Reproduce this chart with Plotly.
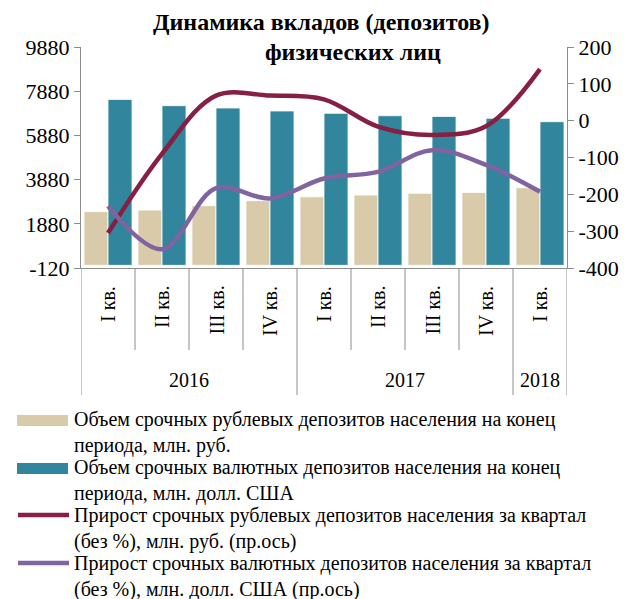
import plotly.graph_objects as go

quarters = ["I кв.", "II кв.", "III кв.", "IV кв.", "I кв.", "II кв.", "III кв.", "IV кв.", "I кв."]
years = ["2016", "2017", "2018"]
year_spans = [(1, 4), (5, 8), (9, 9)]

rub_volume = [2430, 2500, 2700, 2925, 3100, 3180, 3260, 3300, 3510]
usd_volume = [7510, 7225, 7120, 6985, 6880, 6770, 6740, 6655, 6500]
rub_growth = [-305, -90, 68, 68, 58, -16, -39, -15, 140]
usd_growth = [-232, -349, -183, -211, -157, -139, -80, -120, -193]

left_ticks = [-120, 1880, 3880, 5880, 7880, 9880]
left_tick_labels = ["-120", "1880", "3880", "5880", "7880", "9880"]
right_ticks = [-400, -300, -200, -100, 0, 100, 200]
right_tick_labels = ["-400", "-300", "-200", "-100", "0", "100", "200"]

names = [
    "Объем срочных рублевых депозитов населения на конец<br>периода, млн. руб.",
    "Объем срочных валютных депозитов населения на конец<br>периода, млн. долл. США",
    "Прирост срочных рублевых депозитов населения за квартал<br>(без %), млн. руб. (пр.ось)",
    "Прирост срочных валютных депозитов населения за квартал<br>(без %), млн. долл. США (пр.ось)",
]
colors = ["#D9CAAA", "#31859C", "#861F43", "#8064A2"]

x = list(range(1, len(quarters) + 1))
FONT = "Liberation Serif, Times New Roman, serif"
AX = "#8c8c8c"

# page offset (browser body margin) and plot-area geometry in reference pixels
OFF = 8
FW, FH = 633 - OFF, 599 - OFF
L, T, W, H = 81 - OFF, 47 - OFF, 486, 221
def px(xr):
    return (xr - OFF - L) / W
def py(yr):
    return (T + H - (yr - OFF)) / H

fig = go.Figure()
fig.add_trace(go.Bar(x=x, y=rub_volume, name=names[0], marker=dict(color=colors[0], line=dict(color="white", width=0.8))))
fig.add_trace(go.Bar(x=x, y=usd_volume, name=names[1], marker=dict(color=colors[1], line=dict(color="white", width=0.8))))
fig.add_trace(go.Scatter(x=x, y=rub_growth, name=names[2], yaxis="y2", mode="lines",
                         line=dict(color=colors[2], width=4.5, shape="spline", smoothing=1.0)))
fig.add_trace(go.Scatter(x=x, y=usd_growth, name=names[3], yaxis="y2", mode="lines",
                         line=dict(color=colors[3], width=4.5, shape="spline", smoothing=1.0)))

shapes = []
for b in [1.5, 2.5, 3.5, 5.5, 6.5, 7.5]:
    shapes.append(dict(type="line", xref="x", yref="paper", x0=b, x1=b, y0=0, y1=py(350),
                       line=dict(color=AX, width=1)))
for b in [0.5, 4.5, 8.5, 9.5]:
    shapes.append(dict(type="line", xref="x", yref="paper", x0=b, x1=b, y0=0, y1=py(395),
                       line=dict(color=AX, width=1)))

annotations = []
for xi, q in zip(x, quarters):
    annotations.append(dict(x=xi, y=py(284), xref="x", yref="paper", text=q, showarrow=False,
                            textangle=-90, yanchor="top", xanchor="center",
                            font=dict(family=FONT, size=20, color="black")))
for yr, (a, b) in zip(years, year_spans):
    annotations.append(dict(x=(a + b) / 2, y=py(380), xref="x", yref="paper", text=yr, showarrow=False,
                            yanchor="middle", xanchor="center",
                            font=dict(family=FONT, size=20, color="black")))

# title
annotations.append(dict(x=px(321), y=py(22), xref="paper", yref="paper", showarrow=False,
                        text="<b>Динамика вкладов (депозитов)</b>", xanchor="center", yanchor="middle",
                        font=dict(family=FONT, size=24, color="black")))
annotations.append(dict(x=px(353), y=py(52), xref="paper", yref="paper", showarrow=False,
                        text="<b>физических лиц</b>", xanchor="center", yanchor="middle",
                        font=dict(family=FONT, size=24, color="black")))

# legend (drawn manually to match the reference layout)
legend_y = [421, 469, 517, 565]
for i, (nm, c, yl) in enumerate(zip(names, colors, legend_y)):
    if i < 2:
        shapes.append(dict(type="rect", xref="paper", yref="paper", x0=px(17), x1=px(68),
                           y0=py(yl - 6), y1=py(yl + 5), fillcolor=c, line=dict(width=0)))
    else:
        shapes.append(dict(type="line", xref="paper", yref="paper", x0=px(18), x1=px(69),
                           y0=py(yl - 2), y1=py(yl - 2), line=dict(color=c, width=4.5)))
    annotations.append(dict(x=px(72), y=py(yl + 11), xref="paper", yref="paper", showarrow=False,
                            text=nm, xanchor="left", yanchor="middle", align="left",
                            font=dict(family=FONT, size=20, color="black")))

fig.update_layout(
    width=FW, height=FH,
    margin=dict(l=L, r=FW - L - W, t=T, b=FH - T - H),
    paper_bgcolor="white", plot_bgcolor="white",
    barmode="group", bargap=0.11, bargroupgap=0,
    font=dict(family=FONT, size=20, color="black"),
    showlegend=False,
    xaxis=dict(range=[0.5, 9.5], showticklabels=False, showgrid=False, zeroline=False,
               showline=True, linecolor=AX, linewidth=1, ticks=""),
    yaxis=dict(range=[-120, 9880], tickmode="array", tickvals=left_ticks, ticktext=left_tick_labels,
               showgrid=False, zeroline=False, showline=True, linecolor=AX, linewidth=1,
               ticks="outside", ticklen=6, tickcolor=AX, tickfont=dict(family=FONT, size=22)),
    yaxis2=dict(range=[-400, 200], tickmode="array", tickvals=right_ticks, ticktext=right_tick_labels,
                overlaying="y", side="right", showgrid=False, zeroline=False, showline=True,
                linecolor=AX, linewidth=1, ticks="outside", ticklen=6, tickcolor=AX,
                tickfont=dict(family=FONT, size=22)),
    shapes=shapes, annotations=annotations,
)

fig.write_html("out.html")
